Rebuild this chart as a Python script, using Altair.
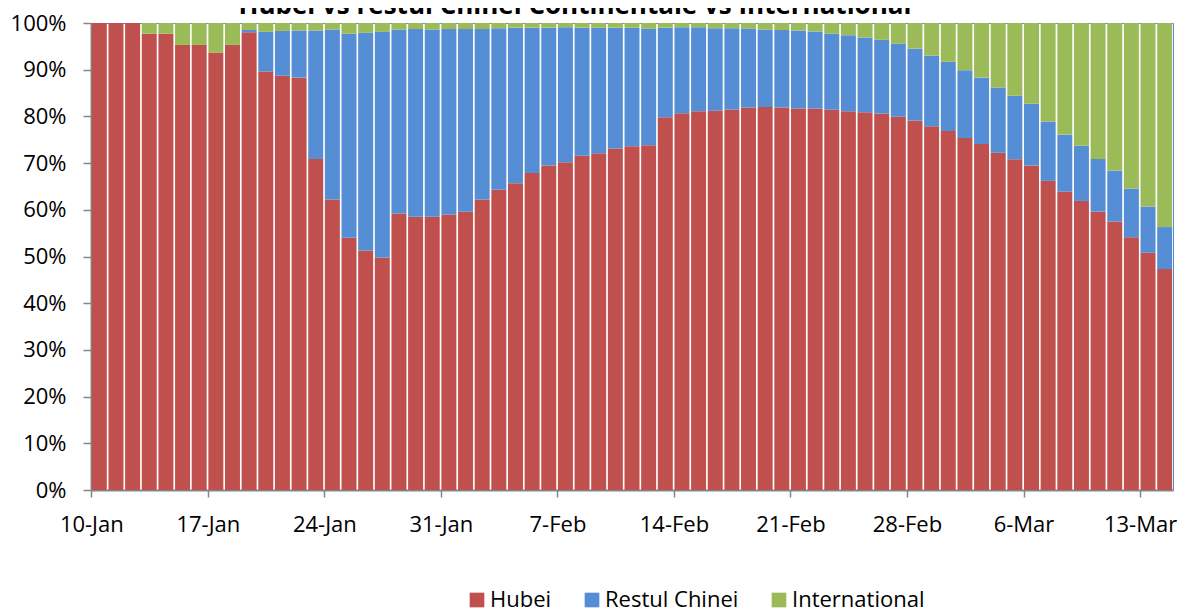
import altair as alt
import pandas as pd

# ---- data (shares in %) ----
dates = pd.date_range("2020-01-10", "2020-03-14", freq="D")
day_labels = [f"{d.day}-{d.strftime('%b')}" for d in dates]

hubei = [100, 100, 100, 97.7, 97.7, 95.3, 95.3, 93.7, 95.3, 98.0,
         89.6, 88.7, 88.3, 70.9, 62.2, 54.0, 51.3, 49.8, 59.2, 58.5,
         58.5, 59.0, 59.6, 62.2, 64.3, 65.7, 67.9, 69.5, 70.2, 71.6,
         72.1, 73.1, 73.6, 73.8, 79.8, 80.7, 81.1, 81.2, 81.5, 81.9,
         82.0, 81.9, 81.7, 81.7, 81.4, 81.1, 80.9, 80.6, 79.9, 79.1,
         77.9, 76.9, 75.4, 74.1, 72.2, 70.8, 69.5, 66.2, 63.9, 61.9,
         59.6, 57.5, 54.1, 50.8, 47.3]
restul = [0, 0, 0, 0, 0, 0, 0, 0, 0, 0.5,
          8.5, 9.6, 10.1, 27.5, 36.4, 43.7, 46.6, 48.3, 39.4, 40.2,
          40.1, 39.7, 39.1, 36.5, 34.6, 33.3, 31.1, 29.5, 28.9, 27.4,
          26.9, 25.9, 25.4, 25.0, 19.2, 18.4, 18.0, 17.7, 17.4, 16.9,
          16.6, 16.6, 16.7, 16.5, 16.3, 16.3, 16.0, 15.8, 15.7, 15.4,
          15.1, 14.8, 14.5, 14.2, 14.0, 13.6, 13.2, 12.7, 12.2, 11.8,
          11.3, 10.9, 10.4, 9.9, 9.0]
international = [0, 0, 0, 2.3, 2.3, 4.7, 4.7, 6.3, 4.7, 1.5,
                 1.9, 1.7, 1.6, 1.6, 1.4, 2.3, 2.1, 1.9, 1.4, 1.3,
                 1.4, 1.3, 1.3, 1.3, 1.1, 1.0, 1.0, 1.0, 0.9, 1.0,
                 1.0, 1.0, 1.0, 1.2, 1.0, 0.9, 0.9, 1.1, 1.1, 1.2,
                 1.4, 1.5, 1.6, 1.8, 2.3, 2.6, 3.1, 3.6, 4.4, 5.5,
                 7.0, 8.3, 10.1, 11.7, 13.8, 15.6, 17.3, 21.1, 23.9, 26.3,
                 29.1, 31.6, 35.5, 39.3, 43.7]

series = ["Hubei", "Restul Chinei", "International"]
colors = ["#C0504D", "#558ED5", "#9BBB59"]
tick_labels = ["10-Jan", "17-Jan", "24-Jan", "31-Jan", "7-Feb",
               "14-Feb", "21-Feb", "28-Feb", "6-Mar", "13-Mar"]
y_ticks = [0, 0.1, 0.2, 0.3, 0.4, 0.5, 0.6, 0.7, 0.8, 0.9, 1.0]
title_text = "Hubei vs restul Chinei Continentale vs International"

rows = []
for i, lab in enumerate(day_labels):
    for k, (name, vals) in enumerate(zip(series, [hubei, restul, international])):
        rows.append({"zi": lab, "serie": name, "ord": k, "val": vals[i]})
df = pd.DataFrame(rows)

FONT = "Open Sans"

bars = alt.Chart(df).mark_bar().encode(
    x=alt.X("zi:O", sort=day_labels,
            scale=alt.Scale(paddingInner=0.1, paddingOuter=0.05),
            axis=alt.Axis(values=tick_labels, bandPosition=0, labelAngle=0,
                          title=None, tickSize=7, labelPadding=17,
                          labelOffset=-7.5)),
    y=alt.Y("val:Q", stack="normalize", scale=alt.Scale(domain=[0, 1]),
            axis=alt.Axis(values=y_ticks, format=".0%", grid=False, title=None,
                          tickSize=8, labelPadding=17)),
    color=alt.Color("serie:N", scale=alt.Scale(domain=series, range=colors),
                    legend=alt.Legend(orient="none", legendX=375, legendY=566,
                                      direction="horizontal", title=None,
                                      symbolType="square", symbolSize=215,
                                      symbolStrokeWidth=0, labelFontSize=22,
                                      labelFont=FONT, labelColor="#000000",
                                      columnPadding=29, labelOffset=2, padding=0)),
    order=alt.Order("ord:Q"),
)

title = alt.Chart(pd.DataFrame({"t": [title_text]})).mark_text(
    font=FONT, fontSize=26, fontWeight="bold", align="center",
    baseline="alphabetic", color="#000000"
).encode(x=alt.value(484), y=alt.value(-9), text="t:N")

chart = alt.layer(bars, title).properties(
    width=1082, height=467,
    padding={"left": 83, "top": 15, "right": 8, "bottom": 122},
    autosize=alt.AutoSizeParams(type="none"),
).configure_view(
    stroke="#5B8BD0", strokeWidth=1
).configure_axis(
    domainColor="#868686", domainWidth=2, tickColor="#868686", tickWidth=1.5,
    labelFont=FONT, labelFontSize=22, labelColor="#000000"
)

chart.save("out.html", embed_options={"renderer": "svg", "actions": False})
